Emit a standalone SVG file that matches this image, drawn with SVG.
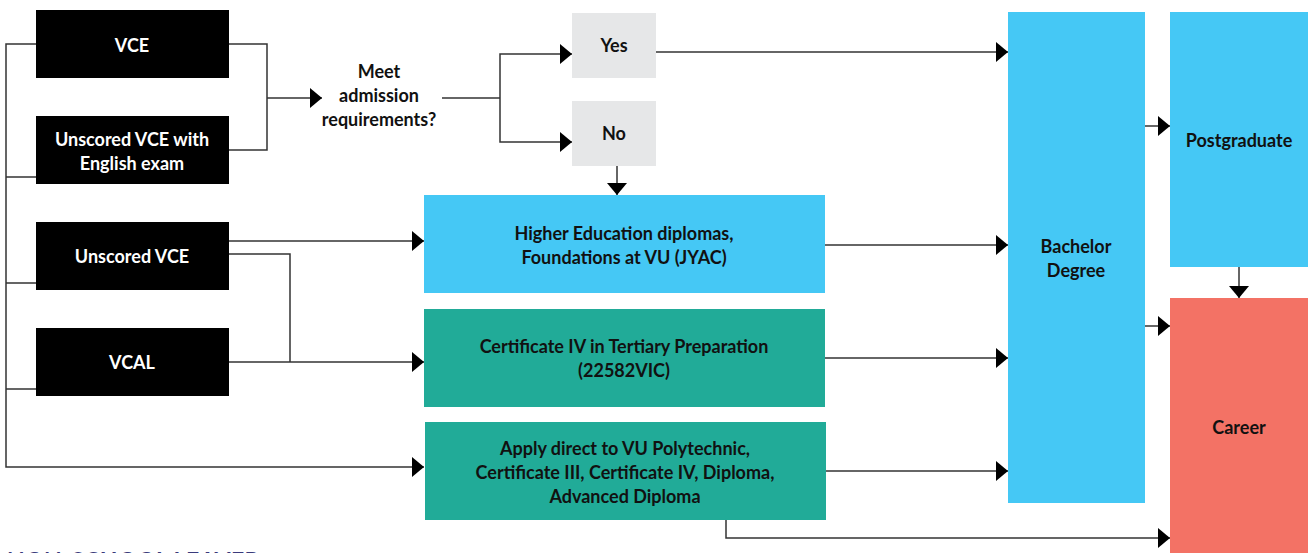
<svg xmlns="http://www.w3.org/2000/svg" width="1308" height="553" viewBox="0 0 1308 553">
<style>
text{font-family:Lato,"Liberation Sans",sans-serif;font-weight:700;font-size:18px;text-anchor:middle;fill:#111}
.w{fill:#fff}
.blk{fill:#000}
.grey{fill:#e6e7e8}
.blue{fill:#45c8f5}
.teal{fill:#21ab98}
.red{fill:#f37265}
.ln{fill:none;stroke:#333;stroke-width:1.5}
.ttl{font-size:23px;letter-spacing:0.4px;text-anchor:start;fill:#3a3a7c}
</style>
<defs>
<marker id="ah" viewBox="0 0 12 20" refX="12" refY="10" markerWidth="12" markerHeight="20" markerUnits="userSpaceOnUse" orient="auto">
<path d="M0,0 L12,10 L0,20 Z" fill="#000"/>
</marker>
</defs>
<g id="connectors">
<path class="ln" d="M36,44 H6 V467 H424" marker-end="url(#ah)"/>
<path class="ln" d="M6,177 H36 M6,283 H36 M6,389 H36"/>
<path class="ln" d="M229,44 H267 V150 H229"/>
<path class="ln" d="M267,98 H322" marker-end="url(#ah)"/>
<path class="ln" d="M442,98 H500"/>
<path class="ln" d="M500,98 V54 H572" marker-end="url(#ah)"/>
<path class="ln" d="M500,98 V142 H572" marker-end="url(#ah)"/>
<path class="ln" d="M617,166 V195" marker-end="url(#ah)"/>
<path class="ln" d="M656,52 H1008" marker-end="url(#ah)"/>
<path class="ln" d="M229,241 H424" marker-end="url(#ah)"/>
<path class="ln" d="M229,254 H290 V362"/>
<path class="ln" d="M229,362 H424" marker-end="url(#ah)"/>
<path class="ln" d="M825,245 H1008" marker-end="url(#ah)"/>
<path class="ln" d="M825,358 H1008" marker-end="url(#ah)"/>
<path class="ln" d="M826,471 H1008" marker-end="url(#ah)"/>
<path class="ln" d="M726,520 V538 H1170" marker-end="url(#ah)"/>
<path class="ln" d="M1145,126 H1170" marker-end="url(#ah)"/>
<path class="ln" d="M1145,326 H1170" marker-end="url(#ah)"/>
<path class="ln" d="M1239,267 V298" marker-end="url(#ah)"/>
</g>
<g id="vce"><rect class="blk" x="36" y="10" width="193" height="68"/><text class="w" x="132" y="52">VCE</text></g>
<g id="unscored-english"><rect class="blk" x="36" y="116" width="193" height="68"/><text class="w" x="132" y="146">Unscored VCE with</text><text class="w" x="132" y="170">English exam</text></g>
<g id="unscored"><rect class="blk" x="36" y="222" width="193" height="68"/><text class="w" x="132" y="263">Unscored VCE</text></g>
<g id="vcal"><rect class="blk" x="36" y="328" width="193" height="68"/><text class="w" x="132" y="369">VCAL</text></g>
<g id="question"><text x="379" y="78">Meet</text><text x="379" y="102">admission</text><text x="379" y="126">requirements?</text></g>
<g id="yes"><rect class="grey" x="572" y="13" width="84" height="65"/><text x="614" y="52">Yes</text></g>
<g id="no"><rect class="grey" x="572" y="101" width="84" height="65"/><text x="614" y="140">No</text></g>
<g id="higher-ed"><rect class="blue" x="424" y="195" width="401" height="98"/><text x="624" y="240">Higher Education diplomas,</text><text x="624" y="264">Foundations at VU (JYAC)</text></g>
<g id="cert-iv"><rect class="teal" x="424" y="309" width="401" height="98"/><text x="624" y="353">Certificate IV in Tertiary Preparation</text><text x="624" y="377">(22582VIC)</text></g>
<g id="polytechnic"><rect class="teal" x="425" y="422" width="401" height="98"/><text x="625" y="455">Apply direct to VU Polytechnic,</text><text x="625" y="479">Certificate III, Certificate IV, Diploma,</text><text x="625" y="503">Advanced Diploma</text></g>
<g id="bachelor"><rect class="blue" x="1008" y="12" width="137" height="491"/><text x="1076" y="253">Bachelor</text><text x="1076" y="277">Degree</text></g>
<g id="postgraduate"><rect class="blue" x="1170" y="12" width="138" height="255"/><text x="1239" y="147">Postgraduate</text></g>
<g id="career"><rect class="red" x="1170" y="298" width="138" height="260"/><text x="1239" y="434">Career</text></g>
<text class="ttl" x="7" y="569">NON-SCHOOL LEAVER</text>
</svg>
